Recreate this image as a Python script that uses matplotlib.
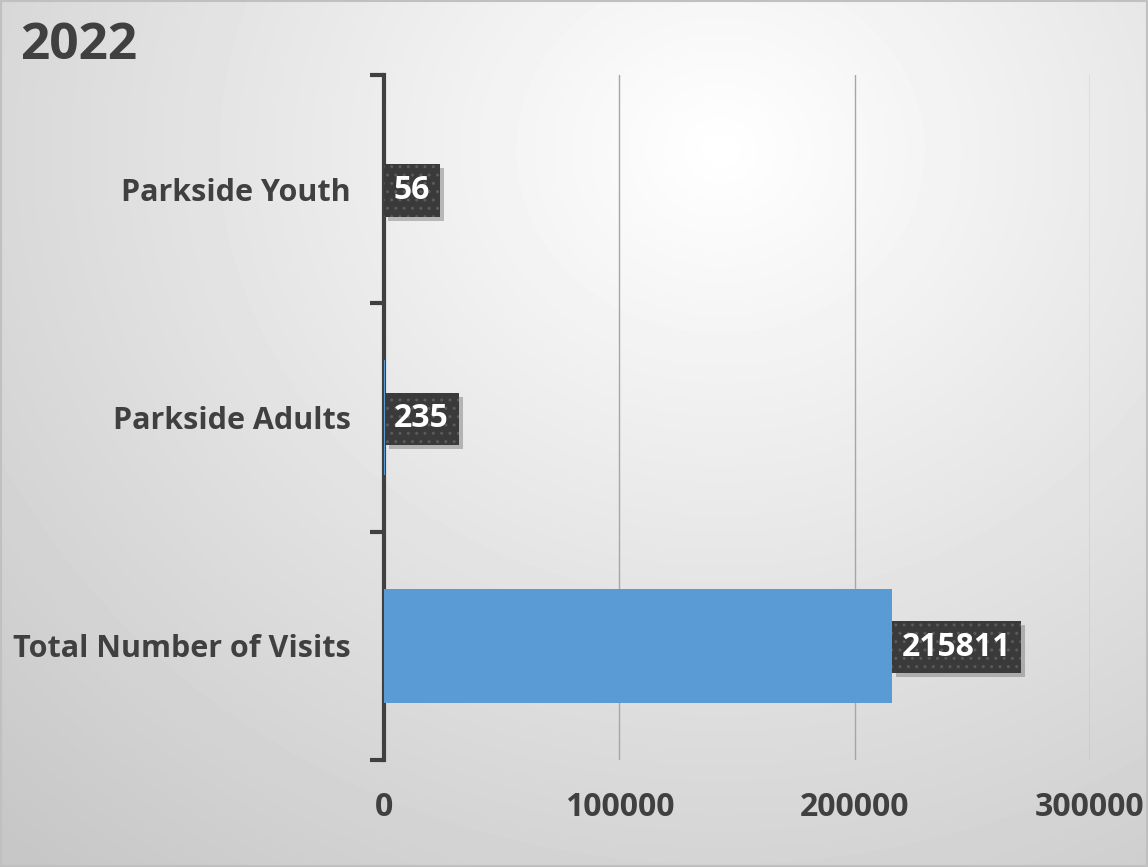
import numpy as np
import matplotlib
matplotlib.use("Agg")
import matplotlib.pyplot as plt
import matplotlib.patheffects as pe
from matplotlib.transforms import Affine2D

categories = ["Total Number of Visits", "Parkside Adults", "Parkside Youth"]
values = [215811, 235, 56]
xticks = [0, 100000, 200000, 300000]
title = "2022"

plt.rcParams['font.family'] = ['Open Sans', 'DejaVu Sans']
dark = "#404040"


class BoxShadow(pe.AbstractPathEffect):
    # plain soft shadow, no hatch
    def draw_path(self, renderer, gc, tpath, affine, rgbFace):
        gc0 = renderer.new_gc()
        gc0.copy_properties(gc)
        gc0.set_hatch(None)
        gc0.set_linewidth(0)
        gc0.set_alpha(0.45)
        off = Affine2D().translate(4, -4)
        renderer.draw_path(gc0, tpath, affine + off, (0.45, 0.45, 0.45))
        gc0.restore()


fig = plt.figure(figsize=(11.48, 8.67), dpi=100)

# radial gradient background
bg = fig.add_axes([0, 0, 1, 1], zorder=-10)
yy, xx = np.mgrid[0:867, 0:1148]
d = np.sqrt(((xx - 720) / 950.0) ** 2 + ((yy - 150) / 850.0) ** 2)
shade = 1.0 - 0.2 * np.clip(d, 0, 1.1)
bg.imshow(shade, cmap="gray", vmin=0, vmax=1, aspect="auto", extent=[0, 1148, 867, 0])
bg.plot([1, 1147, 1147, 1, 1], [1, 1, 866, 866, 1], color="#c0c0c0", lw=1.5)
bg.set_xlim(0, 1148)
bg.set_ylim(867, 0)
bg.axis("off")

ax = fig.add_axes([384 / 1148, 1 - 760 / 867, (1090 - 384) / 1148, (760 - 75) / 867])
ax.patch.set_alpha(0)
y = np.arange(len(categories))
ax.barh(y, values, height=0.5, color="#5b9bd5", zorder=3)
ax.set_xlim(0, 300000)
ax.set_ylim(-0.5, len(categories) - 0.5)
ax.set_xticks(xticks)
ax.set_xticklabels([str(t) for t in xticks], fontsize=23, fontweight="bold", color=dark)
ax.set_yticks(y)
ax.set_yticklabels(categories, fontsize=22, fontweight="bold", color=dark)
ax.tick_params(axis="x", length=0, pad=22)
ax.tick_params(axis="y", length=0, pad=24)
ax.set_yticks(np.arange(-0.5, len(categories)), minor=True)
ax.tick_params(axis="y", which="minor", length=10, width=3, color=dark, direction="out")
ax.grid(axis="x", color="#a6a6a6", lw=1, zorder=0)
for s in ["top", "right", "bottom"]:
    ax.spines[s].set_visible(False)
ax.spines["left"].set_color(dark)
ax.spines["left"].set_linewidth(3)

for yi, v in zip(y, values):
    t = ax.annotate(str(v), (v, yi), xytext=(7, -1), textcoords="offset points",
                    va="center", ha="left", fontsize=23, fontweight="bold", color="white",
                    bbox=dict(boxstyle="square,pad=0.3", fc="#3a3a3a", ec="#5a5a5a", lw=0, hatch=".."),
                    zorder=5)
    t.get_bbox_patch().set_path_effects([BoxShadow(), pe.Normal()])

fig.text(20 / 1148, 1 - 46 / 867, title, fontsize=37, fontweight="bold", color=dark, va="center", ha="left")

fig.savefig("out.png", dpi=100)
